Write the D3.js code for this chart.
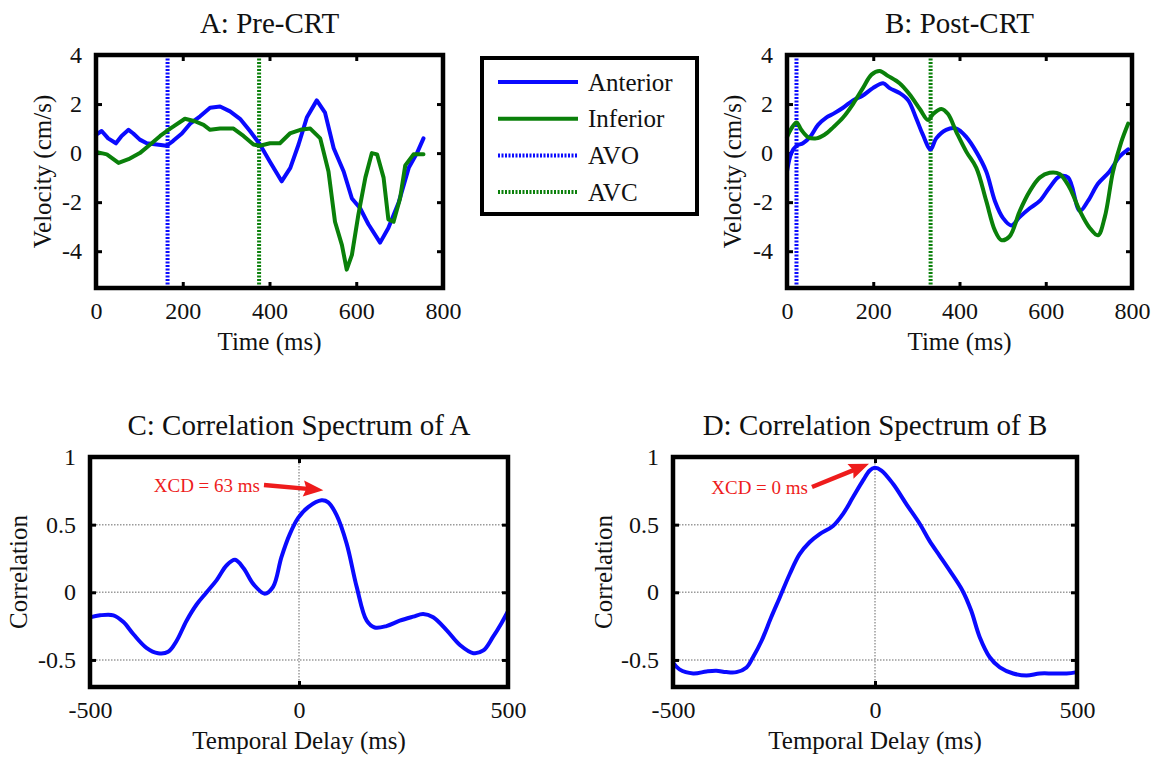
<!DOCTYPE html>
<html>
<head>
<meta charset="utf-8">
<script src="https://cdn.jsdelivr.net/npm/d3@7"></script>
<style>
  body { margin: 0; background: #fff; }
  svg text { font-family: "Liberation Serif", "Times New Roman", serif; fill: #111; }
</style>
</head>
<body>
<svg id="fig" width="1161" height="758"></svg>
<script>
/* global d3 */

// ---- data ----
var velTicksX = [0, 200, 400, 600, 800];
var velTicksY = [-4, -2, 0, 2, 4];
var corrTicksX = [-500, 0, 500];
var corrTicksY = [-0.5, 0, 0.5, 1];

var preAnterior = [[0,0.75],[13,0.9],[28,0.6],[46,0.4],[59,0.7],[75,0.95],[86,0.8],[101,0.55],[117,0.4],
  [140,0.35],[163,0.3],[178,0.5],[198,0.8],[217,1.2],[240,1.5],[263,1.85],[286,1.9],[309,1.7],[332,1.4],
  [355,0.9],[378,0.35],[401,-0.35],[428,-1.15],[448,-0.6],[467,0.35],[486,1.45],[509,2.15],[528,1.65],
  [548,0.2],[571,-0.75],[590,-1.85],[609,-2.25],[628,-2.9],[655,-3.65],[674,-3.05],[698,-2.0],[721,-0.6],
  [740,0],[755,0.6]];
var preInferior = [[0,0.05],[25,-0.05],[52,-0.4],[75,-0.25],[101,0],[125,0.35],[148,0.7],[171,1.0],
  [205,1.4],[228,1.3],[248,1.15],[263,0.95],[286,1.0],[317,1.0],[340,0.7],[363,0.35],[378,0.3],[401,0.4],
  [424,0.4],[447,0.8],[471,0.95],[494,1.0],[517,0.6],[536,-0.75],[551,-2.8],[567,-3.75],[578,-4.75],
  [590,-4.15],[605,-2.5],[621,-1.0],[636,0],[648,-0.05],[663,-1.0],[674,-2.7],[686,-2.8],[701,-1.85],
  [713,-0.5],[732,-0.05],[755,-0.05]];
var postAnterior = [[0,-0.75],[10,0],[22,0.3],[37,0.4],[53,0.65],[72,1.15],[91,1.45],[107,1.6],[130,1.85],
  [153,2.15],[176,2.35],[199,2.65],[223,2.85],[238,2.65],[261,2.45],[281,2.15],[300,1.4],[315,0.75],
  [333,0.15],[346,0.6],[369,0.95],[393,1.0],[416,0.65],[439,0.05],[462,-0.75],[482,-1.95],[501,-2.65],
  [520,-2.95],[540,-2.6],[563,-2.25],[586,-1.95],[609,-1.4],[632,-0.95],[652,-1.0],[679,-2.35],[698,-1.95],
  [721,-1.25],[748,-0.75],[771,-0.15],[791,0.15]];
var postInferior = [[0,0.65],[10,1.0],[22,1.25],[33,0.95],[49,0.65],[68,0.6],[87,0.75],[107,1.05],[130,1.45],
  [153,2.0],[176,2.65],[196,3.2],[215,3.35],[234,3.15],[261,2.85],[284,2.4],[308,1.8],[327,1.35],[339,1.6],
  [358,1.8],[373,1.6],[393,0.85],[416,0.05],[439,-0.6],[462,-1.95],[482,-3.15],[497,-3.55],[516,-3.4],
  [540,-2.35],[563,-1.55],[586,-1.0],[609,-0.8],[632,-0.85],[655,-1.4],[679,-2.35],[702,-3.05],[721,-3.35],
  [737,-2.6],[756,-0.75],[775,0.45],[791,1.2]];
var preAVO = 165, preAVC = 376;
var postAVO = 22, postAVC = 333;

var corrA = [[-500,-0.185],[-476,-0.17],[-444,-0.17],[-420,-0.22],[-396,-0.31],[-365,-0.41],[-337,-0.45],
  [-313,-0.44],[-293,-0.36],[-269,-0.21],[-245,-0.09],[-221,0],[-197,0.09],[-173,0.2],[-153,0.24],
  [-133,0.18],[-109,0.06],[-82,-0.01],[-62,0.04],[-42,0.26],[-22,0.43],[-2,0.55],[22,0.63],[54,0.68],
  [70,0.665],[90,0.57],[114,0.36],[138,0.04],[162,-0.21],[181,-0.26],[209,-0.25],[241,-0.21],[273,-0.18],
  [297,-0.16],[321,-0.185],[353,-0.28],[385,-0.39],[417,-0.45],[441,-0.43],[464,-0.33],[484,-0.23],[500,-0.14]];
var corrB = [[-500,-0.52],[-484,-0.57],[-450,-0.6],[-417,-0.585],[-393,-0.58],[-368,-0.59],[-343,-0.59],
  [-318,-0.555],[-302,-0.48],[-281,-0.36],[-257,-0.185],[-236,-0.04],[-211,0.135],[-187,0.28],[-162,0.37],
  [-137,0.43],[-104,0.49],[-79,0.58],[-55,0.7],[-30,0.825],[-13,0.9],[-1,0.92],[16,0.9],[45,0.8],[78,0.65],
  [111,0.505],[135,0.38],[160,0.27],[185,0.16],[217,0.01],[238,-0.135],[259,-0.33],[284,-0.48],[309,-0.555],
  [342,-0.6],[375,-0.615],[408,-0.6],[441,-0.6],[474,-0.6],[500,-0.59]];
var xcdA = 63, xcdB = 0;

var blue = "#0a0aff", green = "#0a800a", red = "#ee1c1c";
var svg = d3.select("#fig");

function panel(box, xDom, yDom, xTicks, yTicks, title, xLabel, yLabel, yLabelX, grid) {
    var x = d3.scaleLinear().domain(xDom).range([box.l, box.r]);
    var y = d3.scaleLinear().domain(yDom).range([box.b, box.t]);
    var g = svg.append("g");

    if (grid) {
        g.selectAll(".gx").data(xTicks).enter().append("line")
            .attr("x1", function (d) { return x(d); }).attr("x2", function (d) { return x(d); })
            .attr("y1", box.t).attr("y2", box.b)
            .attr("stroke", "#9a9a9a").attr("stroke-width", 1.5).attr("stroke-dasharray", "1.5,1.5");
        g.selectAll(".gy").data(yTicks).enter().append("line")
            .attr("y1", function (d) { return y(d); }).attr("y2", function (d) { return y(d); })
            .attr("x1", box.l).attr("x2", box.r)
            .attr("stroke", "#9a9a9a").attr("stroke-width", 1.5).attr("stroke-dasharray", "1.5,1.5");
    }

    // inward ticks on all four sides, labels only bottom/left
    var axes = [
        [d3.axisBottom(x).tickValues(xTicks), "translate(0," + box.b + ")", true],
        [d3.axisTop(x).tickValues(xTicks), "translate(0," + box.t + ")", false],
        [d3.axisLeft(y).tickValues(yTicks), "translate(" + box.l + ",0)", true],
        [d3.axisRight(y).tickValues(yTicks), "translate(" + box.r + ",0)", false]
    ];
    axes.forEach(function (a) {
        var ax = g.append("g").attr("transform", a[1])
            .call(a[0].tickSizeInner(-6).tickSizeOuter(0).tickPadding(14)
                .tickFormat(function (d) { return String(d); }));
        ax.select(".domain").remove();
        ax.selectAll("line").attr("stroke", "#000").attr("stroke-width", 3);
        if (a[2]) {
            ax.selectAll("text").attr("font-size", 24).attr("fill", "#111")
                .attr("font-family", "Liberation Serif, Times New Roman, serif");
        } else {
            ax.selectAll("text").remove();
        }
    });

    g.append("text").attr("x", (box.l + box.r) / 2).attr("y", box.t - 22)
        .attr("text-anchor", "middle").attr("font-size", 29).text(title);
    g.append("text").attr("x", (box.l + box.r) / 2).attr("y", box.b + 62)
        .attr("text-anchor", "middle").attr("font-size", 25).text(xLabel);
    g.append("text")
        .attr("transform", "translate(" + yLabelX + "," + ((box.t + box.b) / 2) + ") rotate(-90)")
        .attr("text-anchor", "middle").attr("dominant-baseline", "central")
        .attr("font-size", 25).text(yLabel);

    return { g: g, x: x, y: y, box: box };
}

function drawBox(p) {
    p.g.append("rect").attr("x", p.box.l).attr("y", p.box.t)
        .attr("width", p.box.r - p.box.l).attr("height", p.box.b - p.box.t)
        .attr("fill", "none").attr("stroke", "#000").attr("stroke-width", 4.5);
}

function trace(p, data, color, curve) {
    var line = d3.line()
        .x(function (d) { return p.x(d[0]); })
        .y(function (d) { return p.y(d[1]); })
        .curve(curve);
    p.g.append("path").datum(data).attr("d", line)
        .attr("fill", "none").attr("stroke", color).attr("stroke-width", 4)
        .attr("stroke-linejoin", "round").attr("stroke-linecap", "round");
}

function marker(p, t, color) {
    p.g.append("line").attr("x1", p.x(t)).attr("x2", p.x(t))
        .attr("y1", p.box.t).attr("y2", p.box.b)
        .attr("stroke", color).attr("stroke-width", 4).attr("stroke-dasharray", "2,1.5");
}

// red annotation arrow: from = [x0, y0, tip offset dx, tip offset dy]
function arrow(p, from, tipT, tipV, label) {
    var x0 = from[0], y0 = from[1];
    var x1 = p.x(tipT) + from[2], y1 = p.y(tipV) + from[3];
    var ang = Math.atan2(y1 - y0, x1 - x0);
    var hl = 20, hw = 8;
    var bx = x1 - hl * Math.cos(ang), by = y1 - hl * Math.sin(ang);
    p.g.append("line").attr("x1", x0).attr("y1", y0)
        .attr("x2", bx + 4 * Math.cos(ang)).attr("y2", by + 4 * Math.sin(ang))
        .attr("stroke", red).attr("stroke-width", 4.5);
    p.g.append("polygon")
        .attr("points", [[x1, y1],
            [bx - hw * Math.sin(ang), by + hw * Math.cos(ang)],
            [bx + 3 * Math.cos(ang), by + 3 * Math.sin(ang)],
            [bx + hw * Math.sin(ang), by - hw * Math.cos(ang)]].map(function (q) { return q.join(","); }).join(" "))
        .attr("fill", red);
    p.g.append("text").attr("x", x0 - 4).attr("y", y0).attr("text-anchor", "end")
        .attr("dominant-baseline", "central").attr("font-size", 19).style("fill", red).text(label);
}

// ---- A: Pre-CRT ----
var pA = panel({ l: 96, r: 443, t: 55, b: 288 }, [0, 800], [-5.5, 4], velTicksX, velTicksY,
    "A: Pre-CRT", "Time (ms)", "Velocity (cm/s)", 42, false);
marker(pA, preAVO, blue);
marker(pA, preAVC, green);
trace(pA, preAnterior, blue, d3.curveLinear);
trace(pA, preInferior, green, d3.curveLinear);
drawBox(pA);

// ---- B: Post-CRT ----
var pB = panel({ l: 787, r: 1132, t: 55, b: 288 }, [0, 800], [-5.5, 4], velTicksX, velTicksY,
    "B: Post-CRT", "Time (ms)", "Velocity (cm/s)", 732, false);
marker(pB, postAVO, blue);
marker(pB, postAVC, green);
trace(pB, postAnterior, blue, d3.curveCatmullRom);
trace(pB, postInferior, green, d3.curveCatmullRom);
drawBox(pB);

// ---- legend ----
var legendItems = [
    { name: "Anterior", color: blue, dash: null },
    { name: "Inferior", color: green, dash: null },
    { name: "AVO", color: blue, dash: "2,1.5" },
    { name: "AVC", color: green, dash: "2,1.5" }
];
var lg = svg.append("g");
lg.append("rect").attr("x", 482).attr("y", 58).attr("width", 215).attr("height", 156)
    .attr("fill", "#fff").attr("stroke", "#000").attr("stroke-width", 4);
legendItems.forEach(function (d, i) {
    var yy = 82 + i * 36.7;
    lg.append("line").attr("x1", 498).attr("x2", 578).attr("y1", yy).attr("y2", yy)
        .attr("stroke", d.color).attr("stroke-width", 4).attr("stroke-dasharray", d.dash);
    lg.append("text").attr("x", 588).attr("y", yy).attr("dominant-baseline", "central")
        .attr("font-size", 25).text(d.name);
});

// ---- C ----
var pC = panel({ l: 90, r: 508, t: 457, b: 687 }, [-500, 500], [-0.7, 1], corrTicksX, corrTicksY,
    "C: Correlation Spectrum of A", "Temporal Delay (ms)", "Correlation", 18, true);
trace(pC, corrA, blue, d3.curveCatmullRom);
arrow(pC, [264, 485, -2, -10], xcdA, 0.68, "XCD = 63 ms");
drawBox(pC);

// ---- D ----
var pD = panel({ l: 673, r: 1077, t: 457, b: 687 }, [-500, 500], [-0.7, 1], corrTicksX, corrTicksY,
    "D: Correlation Spectrum of B", "Temporal Delay (ms)", "Correlation", 603, true);
trace(pD, corrB, blue, d3.curveCatmullRom);
arrow(pD, [812, 487, -6, -4], xcdB, 0.92, "XCD = 0 ms");
drawBox(pD);
</script>
</body>
</html>
